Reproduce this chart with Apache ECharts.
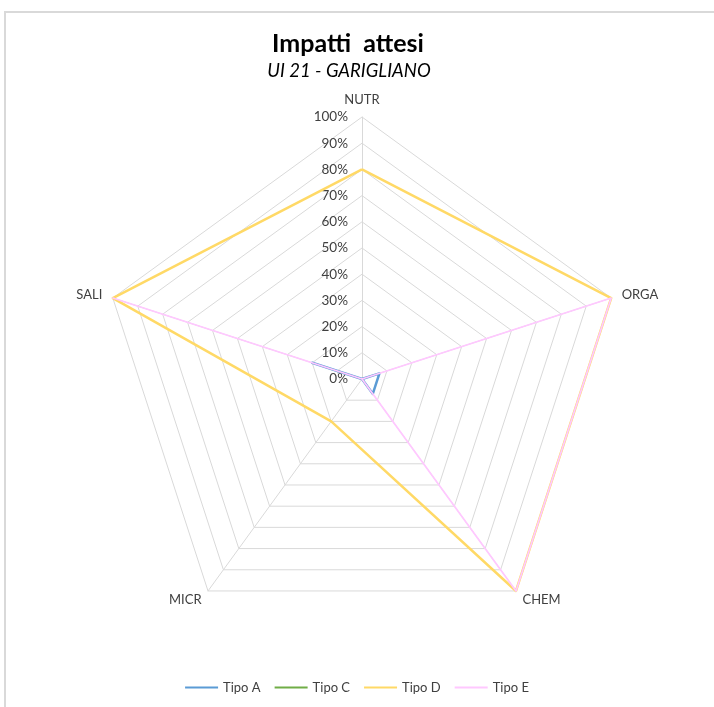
<!DOCTYPE html>
<html>
<head>
<meta charset="utf-8">
<script src="https://cdn.jsdelivr.net/npm/echarts@6/dist/echarts.min.js"></script>
<style>
html,body{margin:0;padding:0;background:#fff;}
#chart{width:714px;height:707px;}
</style>
</head>
<body>
<div id="chart"></div>
<script>
// Indicators in clockwise order starting at top
const categories = ['NUTR', 'ORGA', 'CHEM', 'MICR', 'SALI'];
const seriesNames = ['Tipo A', 'Tipo C', 'Tipo D', 'Tipo E'];
const tipoA = [0, 0.07, 0.07, 0, 0.2];
const tipoC = [0, 0, 0, 0, 0];
const tipoD = [0.8, 1, 1, 0.2, 1];
const tipoE = [0, 1, 1, 0, 1];
const tickLabels = ['0%', '10%', '20%', '30%', '40%', '50%', '60%', '70%', '80%', '90%', '100%'];
const colors = ['#5B9BD5', '#70AD47', '#FFD966', '#FFC8FF'];

// ECharts radar places indicators counter-clockwise; reorder to get clockwise layout
function cw(arr) { return [arr[0]].concat(arr.slice(1).reverse()); }

const chart = echarts.init(document.getElementById('chart'));
const FONT = 'Lato, "Open Sans", sans-serif';
const allData = [tipoA, tipoC, tipoD, tipoE];

chart.setOption({
  animation: false,
  color: colors,
  title: [
    { text: 'Impatti  attesi', left: 343, top: 26, textAlign: 'center',
      textStyle: { fontFamily: FONT, fontSize: 25, fontWeight: 'bold', color: '#000' } },
    { text: 'UI 21 - GARIGLIANO', left: 344, top: 57, textAlign: 'center',
      textStyle: { fontFamily: FONT, fontSize: 18.5, fontStyle: 'italic', fontWeight: 'normal', color: '#000' } }
  ],
  graphic: [{
    type: 'rect', silent: true, z: -10,
    shape: { x: 5, y: 12, width: 760, height: 760 },
    style: { fill: 'none', stroke: '#d9d9d9', lineWidth: 2 }
  }],
  legend: {
    data: seriesNames,
    bottom: 8,
    left: 'center',
    icon: 'rect',
    itemWidth: 33,
    itemHeight: 2,
    itemGap: 14,
    textStyle: { fontFamily: FONT, fontSize: 13, color: '#404040' }
  },
  radar: {
    center: [362, 379],
    radius: 262,
    startAngle: 90,
    splitNumber: 10,
    shape: 'polygon',
    indicator: cw(categories).map(n => ({ name: n, min: 0, max: 1 })),
    axisName: { fontFamily: FONT, fontSize: 13, color: '#404040' },
    nameGap: 11,
    axisLine: { lineStyle: { color: '#d9d9d9', width: 1 } },
    splitLine: { lineStyle: { color: '#d9d9d9', width: 1 } },
    splitArea: { show: false },
    axisTick: { show: false },
    axisLabel: { show: false }
  },
  polar: { center: [362, 379], radius: 262 },
  angleAxis: { show: false, startAngle: 90, min: 0, max: 360 },
  radiusAxis: {
    min: 0, max: 1, interval: 0.1,
    axisLine: { show: false }, axisTick: { show: false }, splitLine: { show: false },
    axisLabel: {
      show: true, fontFamily: FONT, fontSize: 13.5, color: '#404040', margin: 14,
      formatter: function (v) { return tickLabels[Math.round(v * 10)]; }
    }
  },
  series: [{
    type: 'radar',
    symbol: 'none',
    data: allData.map((d, i) => ({
      name: seriesNames[i],
      value: cw(d),
      lineStyle: { width: i === 3 ? 1.75 : 2.5, color: colors[i] },
      itemStyle: { color: colors[i] }
    }))
  }]
});
</script>
</body>
</html>
